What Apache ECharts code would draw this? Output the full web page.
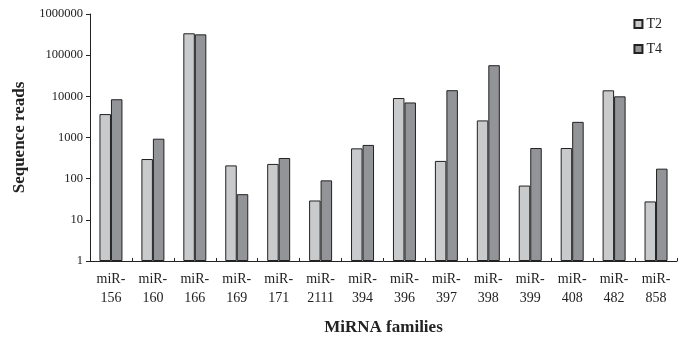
<!DOCTYPE html>
<html><head><meta charset="utf-8">
<script src="https://cdn.jsdelivr.net/npm/echarts@6/dist/echarts.min.js"></script>
<style>html,body{margin:0;padding:0;background:#fff}#c{width:681px;height:341px}</style>
</head><body><div id="c"></div>
<script>
const categories = ['miR-\n156','miR-\n160','miR-\n166','miR-\n169','miR-\n171','miR-\n2111','miR-\n394','miR-\n396','miR-\n397','miR-\n398','miR-\n399','miR-\n408','miR-\n482','miR-\n858'];
const t2 = [3700, 300, 340000, 210, 228, 29.5, 545, 9100, 270, 2600, 68, 555, 14000, 28];
const t4 = [8500, 935, 320000, 42, 318, 91, 660, 7100, 14100, 57000, 555, 2400, 10000, 175];
const seriesNames = ['T2','T4'];

const font = 'Liberation Serif';
const chart = echarts.init(document.getElementById('c'));
chart.setOption({
  animation: false,
  textStyle: {fontFamily: font},
  grid: {left: 90, right: 4, top: 14, bottom: 79},
  legend: {
    orient: 'vertical', right: 14, top: 12, icon: 'rect',
    itemWidth: 8, itemHeight: 8, itemGap: 11,
    textStyle: {fontFamily: font, fontSize: 14, color: '#222', padding: [0,0,0,-1]},
    data: seriesNames
  },
  xAxis: {
    type: 'category', data: categories,
    axisLine: {lineStyle: {color: '#222', width: 1}},
    axisTick: {show: true, inside: true, length: 3, lineStyle: {color: '#222'}},
    axisLabel: {fontFamily: font, fontSize: 14, color: '#222', lineHeight: 19, margin: 9},
    name: 'MiRNA families', nameLocation: 'middle', nameGap: 58,
    nameTextStyle: {fontFamily: font, fontSize: 17, fontWeight: 'bold', color: '#222'}
  },
  yAxis: {
    type: 'log', logBase: 10, min: 1, max: 1000000,
    axisLine: {show: true, lineStyle: {color: '#222', width: 1}},
    axisTick: {show: true, length: 4, lineStyle: {color: '#222'}},
    splitLine: {show: false},
    minorTick: {show: false},
    axisLabel: {fontFamily: font, fontSize: 12.5, color: '#222', margin: 7,
      formatter: v => String(Math.round(v))},
    name: 'Sequence reads', nameLocation: 'middle', nameGap: 62, nameRotate: 90,
    nameMoveOverlap: false,
    nameTextStyle: {fontFamily: font, fontSize: 17, fontWeight: 'bold', color: '#222'}
  },
  series: [
    {name: 'T2', type: 'bar', data: t2, barWidth: 11.5, barGap: '0%',
      itemStyle: {color: '#c9cacc', borderColor: '#222', borderWidth: 1}},
    {name: 'T4', type: 'bar', data: t4, barWidth: 11.5, barGap: '0%',
      itemStyle: {color: '#939498', borderColor: '#222', borderWidth: 1}}
  ]
});
</script></body></html>
